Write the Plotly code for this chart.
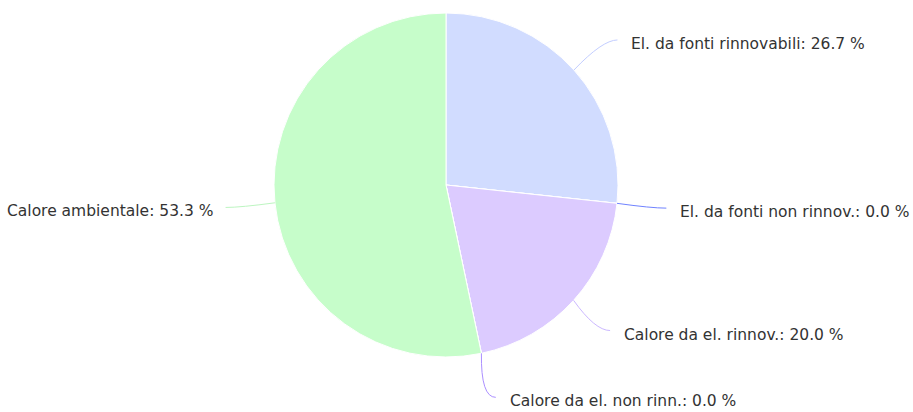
import math
import plotly.graph_objects as go

# ---- data ----
labels = [
    "El. da fonti rinnovabili",
    "El. da fonti non rinnov.",
    "Calore da el. rinnov.",
    "Calore da el. non rinn.",
    "Calore ambientale",
]
values = [26.7, 0.0, 20.0, 0.0, 53.3]

# ---- styles ----
slice_colors = ["#d1dcff", "#7083ff", "#dccbff", "#ab8fff", "#c6fdca"]
connector_colors = ["#c3ceff", "#7083ff", "#cbb8ff", "#ab8fff", "#bdf5c1"]

W, H = 913, 412
CX, CY, R = 446.0, 185.0, 172.0   # pie centre / radius in px
RY, RX = 217.0, 222.0             # label placement radii in px
TEXT_GAP_R, TEXT_GAP_L = 12, 11
TEXT_DY = 4

def px(x):
    return x / W

def py(y):
    return 1 - y / H

fig = go.Figure()
fig.add_trace(go.Pie(
    labels=labels,
    values=values,
    sort=False,
    direction="clockwise",
    rotation=0,
    textinfo="none",
    hoverinfo="label+percent",
    marker=dict(colors=slice_colors, line=dict(color="#ffffff", width=1)),
    domain=dict(x=[px(CX - R), px(CX + R)], y=[py(CY + R), py(CY - R)]),
    showlegend=False,
))

total = sum(values)
shapes = []
annotations = []
cum = 0.0
for lab, v, cc in zip(labels, values, connector_colors):
    frac_mid = (cum + v / 2) / total
    cum += v
    ang = 2 * math.pi * frac_mid
    side = 1 if math.sin(ang) >= 0 else -1
    sx = CX + R * math.sin(ang)
    sy = CY - R * math.cos(ang)
    ey = CY - RY * math.cos(ang)
    dy = (ey + TEXT_DY) - CY
    ex = CX + side * math.sqrt(max(RX ** 2 - dy ** 2, 0))
    qx, qy = ex - side * 15, ey
    path = "M {} {} Q {} {} {} {}".format(px(sx), py(sy), px(qx), py(qy), px(ex), py(ey))
    shapes.append(dict(type="path", xref="paper", yref="paper", path=path,
                       line=dict(color=cc, width=1)))
    pct = v / total * 100
    tx = ex + (TEXT_GAP_R if side > 0 else -TEXT_GAP_L)
    annotations.append(dict(
        x=px(tx), y=py(ey + TEXT_DY), xref="paper", yref="paper",
        text="{}: {:.1f} %".format(lab, pct), showarrow=False,
        xanchor="left" if side > 0 else "right", yanchor="middle",
        font=dict(family="DejaVu Sans, Verdana, sans-serif", size=15.5, color="#333333"),
    ))

fig.update_layout(
    width=W, height=H,
    margin=dict(l=0, r=0, t=0, b=0),
    paper_bgcolor="#ffffff",
    plot_bgcolor="#ffffff",
    shapes=shapes,
    annotations=annotations,
)

fig.write_html(
    "out.html",
    config={"displayModeBar": False},
    post_script="document.body.style.margin='0px';document.body.style.overflow='hidden';",
)
